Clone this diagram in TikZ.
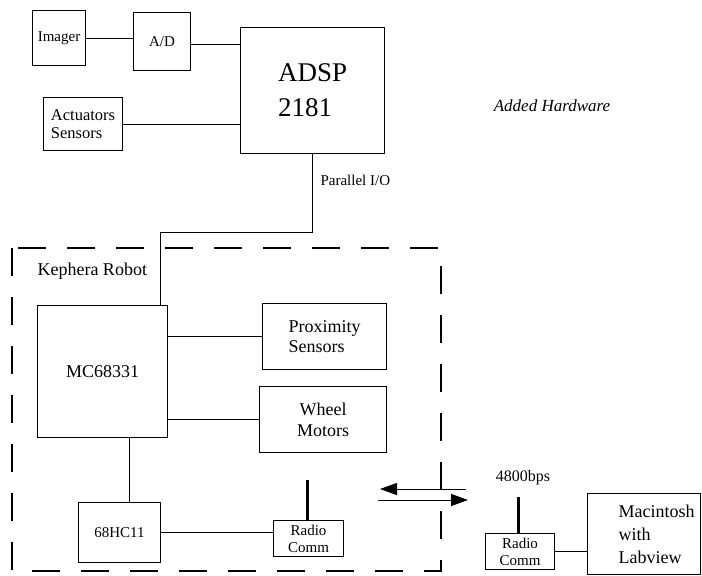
\documentclass[tikz,border=0pt]{standalone}
\usepackage{fontspec}
\setmainfont{Liberation Serif}
\usetikzlibrary{positioning,arrows.meta,calc}
\tikzset{
  every node/.style={font=\fontsize{15}{18}\selectfont},
  unit/.style={
    rectangle, draw=black, line width=1.1pt,
    anchor=north west, inner sep=2pt, align=center
  },
  bigtext/.style={font=\fontsize{18}{21}\selectfont},
  link/.style={draw=black, line width=1pt},
  antenna/.style={draw=black, line width=3pt},
  radio/.style={-{Triangle[length=17pt,width=12pt]}, line width=1pt},
  robotframe/.style={draw=black, line width=2.5pt, dash pattern=on 28pt off 21pt},
}
\begin{document}
\begin{tikzpicture}[x=1pt,y=-1pt]
  \useasboundingbox (0,0) rectangle (702,576);
  % added hardware
  \node[unit, minimum width=53pt, minimum height=55pt] (imager) at (32,10) {Imager};
  \node[unit, minimum width=57pt, minimum height=58pt] (ad) at (133,12) {A/D};
  \node[unit, minimum width=144pt, minimum height=126pt, align=left,
        font=\fontsize{27}{35}\selectfont] (adsp) at (240,27) {ADSP\\2181};
  \node[unit, minimum width=79pt, minimum height=53pt, align=left,
        font=\fontsize{16.5}{18}\selectfont] (act) at (43,97) {Actuators\\Sensors};
  \draw[link] (imager.east) -- (ad.west |- imager.east);
  \draw[link] ([yshift=-3pt]ad.east) -- ([yshift=-3pt]ad.east -| adsp.west);
  \draw[link] (act.east) -- (act.east -| adsp.west);
  \node[font=\fontsize{17}{20}\selectfont\itshape] (added) at (552,106) {Added Hardware};
  % kephera robot
  \draw[robotframe] (12,248) rectangle (441,571);
  \node[bigtext, anchor=west] (kephera) at (34,271) {Kephera Robot};
  \node[unit, bigtext, minimum width=130pt, minimum height=132pt] (mc) at (37,305) {MC68331};
  \node[unit, bigtext, minimum width=124pt, minimum height=66pt, align=left,
        font=\fontsize{18}{20}\selectfont] (prox) at (262,303) {Proximity\\Sensors};
  \node[unit, bigtext, minimum width=127pt, minimum height=66pt] (wheel) at (259,386) {Wheel\\Motors};
  \node[unit, minimum width=82pt, minimum height=60pt] (hc) at (78,502) {68HC11};
  \node[unit, minimum width=70pt, minimum height=36pt, inner sep=1pt,
        font=\fontsize{15}{17}\selectfont] (radioA) at (273,520) {Radio\\Comm};
  \draw[link] (adsp.south) -- ++(0,78) -| ([xshift=-8pt]mc.north east);
  \node[anchor=west] (pio) at (317,180) {Parallel I/O};
  \draw[link] (prox.west) -- (prox.west -| mc.east);
  \draw[link] (wheel.west) -- (wheel.west -| mc.east);
  \draw[link] ([xshift=10pt]hc.north) -- ([xshift=10pt]hc.north |- mc.south);
  \draw[link] (hc.east) -- (hc.east -| radioA.west);
  \coordinate (aerialA) at ([xshift=-1pt,yshift=40pt]radioA.north);
  \draw[antenna] ([xshift=-1pt]radioA.north) -- (aerialA);
  % radio link
  \coordinate (rxA) at (380,489);
  \coordinate (rxB) at (466,489);
  \coordinate (txA) at (378,500);
  \coordinate (txB) at (468,500);
  \draw[radio] (rxB) -- (rxA);
  \draw[radio] (txA) -- (txB);
  \node[font=\fontsize{16}{18}\selectfont] (rate) at (523,478) {4800bps};
  % host side
  \node[unit, minimum width=69pt, minimum height=36pt, inner sep=1pt,
        font=\fontsize{15}{17}\selectfont] (radioB) at (485,533) {Radio\\Comm};
  \coordinate (aerialB) at ([xshift=-1.5pt,yshift=36pt]radioB.north);
  \draw[antenna] ([xshift=-1.5pt]radioB.north) -- (aerialB);
  \node[unit, minimum width=113pt, minimum height=81pt] (mac) at (587,493) {};
  \node[bigtext, anchor=west, align=left, font=\fontsize{18}{23}\selectfont] (maclabel)
        at ([xshift=28pt]mac.west) {Macintosh\\with\\Labview};
  \draw[link] (radioB.east) -- (radioB.east -| mac.west);
\end{tikzpicture}
\end{document}
